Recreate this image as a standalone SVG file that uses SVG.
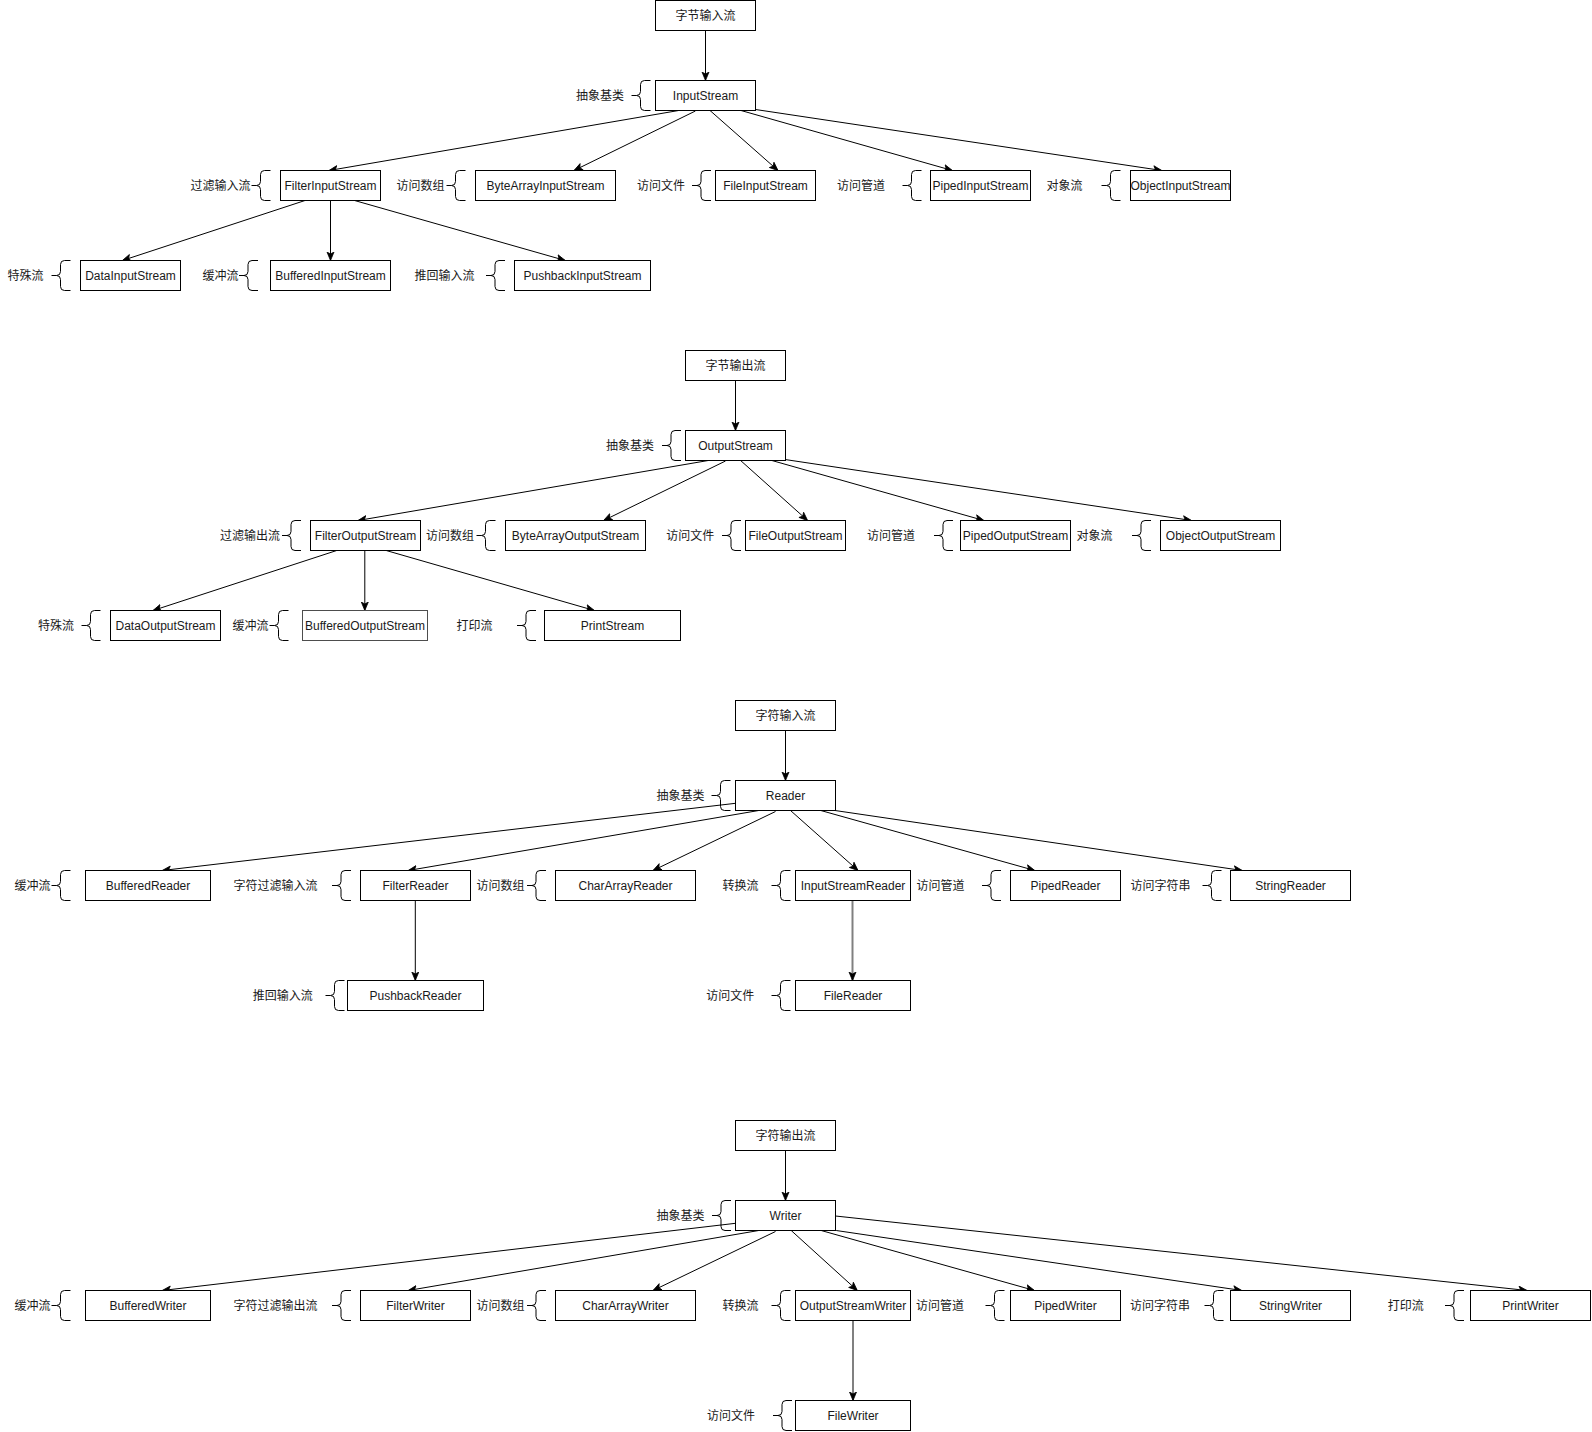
<svg xmlns="http://www.w3.org/2000/svg" xmlns:xlink="http://www.w3.org/1999/xlink" width="1592" height="1432" viewBox="0 0 1592 1432">
<style>
  .box { fill: #ffffff; stroke: #000000; stroke-width: 1; }
  .box.gray { stroke: #4d4d4d; }
  .t { font-family: "Liberation Sans", "Noto Sans CJK SC", sans-serif; font-size: 12px; fill: #1a1a1a; text-anchor: middle; dominant-baseline: central; }
  .brace { fill: none; stroke: #000000; stroke-width: 1; }
  .edge { fill: none; stroke: #000000; stroke-width: 1; marker-end: url(#arrow); }
  .edge.gray { stroke: #808080; stroke-width: 2; }
</style>
<defs>
  <marker id="arrow" markerUnits="userSpaceOnUse" markerWidth="12" markerHeight="12" refX="9" refY="4" orient="auto">
    <path d="M0.5,0.5 L9,4 L0.5,7.5 L2.5,4 Z" fill="#000000" stroke="#000000" stroke-width="0.8" stroke-linejoin="miter"/>
  </marker>
  <path id="brace" class="brace" d="M0,0 H-6 Q-10,0 -10,4 V11 Q-10,15 -14,15 H-19 M-14,15 Q-10,15 -10,19 V26 Q-10,30 -6,30 H0"/>
</defs>
<rect width="1592" height="1432" fill="#ffffff"/>

<g id="connectors">
  <!-- section 1 -->
  <line class="edge" x1="705.5" y1="30.5" x2="705.5" y2="80.5"/>
  <line class="edge" x1="678.6" y1="110.5" x2="329" y2="170.5"/>
  <line class="edge" x1="695.4" y1="111" x2="574" y2="170.5"/>
  <line class="edge" x1="710" y1="110.5" x2="778" y2="170.5"/>
  <line class="edge" x1="741" y1="110.5" x2="952.4" y2="170.5"/>
  <line class="edge" x1="755.5" y1="109.5" x2="1161.8" y2="170.5"/>
  <line class="edge" x1="305" y1="200.5" x2="122.4" y2="260.5"/>
  <line class="edge" x1="330.5" y1="200.5" x2="330.5" y2="260.5"/>
  <line class="edge" x1="354.6" y1="200.5" x2="565.3" y2="260.5"/>
  <!-- section 2 -->
  <line class="edge" x1="735.5" y1="380.5" x2="735.5" y2="430.5"/>
  <line class="edge" x1="708.2" y1="460.5" x2="358" y2="520.5"/>
  <line class="edge" x1="725.5" y1="461" x2="603.6" y2="520.5"/>
  <line class="edge" x1="740.6" y1="460.5" x2="807.6" y2="520.5"/>
  <line class="edge" x1="771.9" y1="460.5" x2="983.9" y2="520.5"/>
  <line class="edge" x1="785" y1="459.5" x2="1191.5" y2="520.5"/>
  <line class="edge" x1="336.7" y1="550.5" x2="153" y2="610.5"/>
  <line class="edge" x1="364.8" y1="550.5" x2="364.8" y2="610.5"/>
  <line class="edge" x1="386.2" y1="550.5" x2="594.4" y2="610.5"/>
  <!-- section 3 -->
  <line class="edge" x1="785.5" y1="730.5" x2="785.5" y2="780.5"/>
  <line class="edge" x1="735.5" y1="803.3" x2="162.2" y2="870.5"/>
  <line class="edge" x1="758.7" y1="810.5" x2="408.2" y2="870.5"/>
  <line class="edge" x1="775.5" y1="811.5" x2="653" y2="870.5"/>
  <line class="edge" x1="790.5" y1="810.5" x2="858" y2="870.5"/>
  <line class="edge" x1="820.8" y1="810.5" x2="1034.8" y2="870.5"/>
  <line class="edge" x1="835" y1="810.5" x2="1242.3" y2="870.5"/>
  <line class="edge" x1="415.3" y1="900.5" x2="415.3" y2="980.5"/>
  <line class="edge gray" x1="852.5" y1="900.5" x2="852.5" y2="980.5"/>
  <!-- section 4 -->
  <line class="edge" x1="785.5" y1="1150.5" x2="785.5" y2="1200.5"/>
  <line class="edge" x1="735.5" y1="1223.3" x2="162.2" y2="1290.5"/>
  <line class="edge" x1="758.7" y1="1230.5" x2="408.2" y2="1290.5"/>
  <line class="edge" x1="775.5" y1="1231.5" x2="653" y2="1290.5"/>
  <line class="edge" x1="791.2" y1="1230.5" x2="857.3" y2="1290.5"/>
  <line class="edge" x1="821.2" y1="1230.5" x2="1034.5" y2="1290.5"/>
  <line class="edge" x1="836.2" y1="1230.5" x2="1241.8" y2="1290.5"/>
  <line class="edge" x1="835.5" y1="1216" x2="1527.1" y2="1290.5"/>
  <line class="edge gray" x1="853" y1="1320.5" x2="853" y2="1400.5"/>
</g>

<!-- Section 1: byte input -->
<g id="byte-input-root"><rect class="box" x="655.5" y="0.5" width="100" height="30"/><text class="t" x="705.5" y="15.5">字节输入流</text></g>
<g id="InputStream"><text class="t" x="600" y="95.5">抽象基类</text><use xlink:href="#brace" x="650.5" y="80.5"/><rect class="box" x="655.5" y="80.5" width="100" height="30"/><text class="t" x="705.5" y="95.5">InputStream</text></g>
<g id="FilterInputStream"><text class="t" x="220.4" y="185.5">过滤输入流</text><use xlink:href="#brace" x="270.5" y="170.5"/><rect class="box" x="280.5" y="170.5" width="100" height="30"/><text class="t" x="330.5" y="185.5">FilterInputStream</text></g>
<g id="ByteArrayInputStream"><text class="t" x="420.5" y="185.5">访问数组</text><use xlink:href="#brace" x="465.5" y="170.5"/><rect class="box" x="475.5" y="170.5" width="140" height="30"/><text class="t" x="545.5" y="185.5">ByteArrayInputStream</text></g>
<g id="FileInputStream"><text class="t" x="661" y="185.5">访问文件</text><use xlink:href="#brace" x="711" y="170.5"/><rect class="box" x="715.5" y="170.5" width="100" height="30"/><text class="t" x="765.5" y="185.5">FileInputStream</text></g>
<g id="PipedInputStream"><text class="t" x="861" y="185.5">访问管道</text><use xlink:href="#brace" x="921.5" y="170.5"/><rect class="box" x="930.5" y="170.5" width="100" height="30"/><text class="t" x="980.5" y="185.5">PipedInputStream</text></g>
<g id="ObjectInputStream"><text class="t" x="1064.4" y="185.5">对象流</text><use xlink:href="#brace" x="1120.5" y="170.5"/><rect class="box" x="1130.5" y="170.5" width="100" height="30"/><text class="t" x="1180.5" y="185.5">ObjectInputStream</text></g>
<g id="DataInputStream"><text class="t" x="25.5" y="275.5">特殊流</text><use xlink:href="#brace" x="70.5" y="260.5"/><rect class="box" x="80.5" y="260.5" width="100" height="30"/><text class="t" x="130.5" y="275.5">DataInputStream</text></g>
<g id="BufferedInputStream"><text class="t" x="220.4" y="275.5">缓冲流</text><use xlink:href="#brace" x="258" y="260.5"/><rect class="box" x="270.5" y="260.5" width="120" height="30"/><text class="t" x="330.5" y="275.5">BufferedInputStream</text></g>
<g id="PushbackInputStream"><text class="t" x="444.4" y="275.5">推回输入流</text><use xlink:href="#brace" x="505" y="260.5"/><rect class="box" x="514.5" y="260.5" width="136" height="30"/><text class="t" x="582.5" y="275.5">PushbackInputStream</text></g>

<!-- Section 2: byte output -->
<g id="byte-output-root"><rect class="box" x="685.5" y="350.5" width="100" height="30"/><text class="t" x="735.5" y="365.5">字节输出流</text></g>
<g id="OutputStream"><text class="t" x="630" y="445.5">抽象基类</text><use xlink:href="#brace" x="681" y="430.5"/><rect class="box" x="685.5" y="430.5" width="100" height="30"/><text class="t" x="735.5" y="445.5">OutputStream</text></g>
<g id="FilterOutputStream"><text class="t" x="250" y="535.5">过滤输出流</text><use xlink:href="#brace" x="301" y="520.5"/><rect class="box" x="310.5" y="520.5" width="110" height="30"/><text class="t" x="365.5" y="535.5">FilterOutputStream</text></g>
<g id="ByteArrayOutputStream"><text class="t" x="450" y="535.5">访问数组</text><use xlink:href="#brace" x="495.5" y="520.5"/><rect class="box" x="505.5" y="520.5" width="140" height="30"/><text class="t" x="575.5" y="535.5">ByteArrayOutputStream</text></g>
<g id="FileOutputStream"><text class="t" x="690.3" y="535.5">访问文件</text><use xlink:href="#brace" x="741" y="520.5"/><rect class="box" x="745.5" y="520.5" width="100" height="30"/><text class="t" x="795.5" y="535.5">FileOutputStream</text></g>
<g id="PipedOutputStream"><text class="t" x="891" y="535.5">访问管道</text><use xlink:href="#brace" x="953" y="520.5"/><rect class="box" x="960.5" y="520.5" width="110" height="30"/><text class="t" x="1015.5" y="535.5">PipedOutputStream</text></g>
<g id="ObjectOutputStream"><text class="t" x="1094.6" y="535.5">对象流</text><use xlink:href="#brace" x="1151" y="520.5"/><rect class="box" x="1160.5" y="520.5" width="120" height="30"/><text class="t" x="1220.5" y="535.5">ObjectOutputStream</text></g>
<g id="DataOutputStream"><text class="t" x="56" y="625.5">特殊流</text><use xlink:href="#brace" x="100.5" y="610.5"/><rect class="box" x="110.5" y="610.5" width="110" height="30"/><text class="t" x="165.5" y="625.5">DataOutputStream</text></g>
<g id="BufferedOutputStream"><text class="t" x="250.5" y="625.5">缓冲流</text><use xlink:href="#brace" x="288.5" y="610.5"/><rect class="box gray" x="302.5" y="610.5" width="125" height="30"/><text class="t" x="365" y="625.5">BufferedOutputStream</text></g>
<g id="PrintStream"><text class="t" x="474.5" y="625.5">打印流</text><use xlink:href="#brace" x="536" y="610.5"/><rect class="box" x="544.5" y="610.5" width="136" height="30"/><text class="t" x="612.5" y="625.5">PrintStream</text></g>

<!-- Section 3: char input -->
<g id="char-input-root"><rect class="box" x="735.5" y="700.5" width="100" height="30"/><text class="t" x="785.5" y="715.5">字符输入流</text></g>
<g id="Reader"><text class="t" x="680.5" y="795.5">抽象基类</text><use xlink:href="#brace" x="730.5" y="780.5"/><rect class="box" x="735.5" y="780.5" width="100" height="30"/><text class="t" x="785.5" y="795.5">Reader</text></g>
<g id="BufferedReader"><text class="t" x="32.6" y="885.5">缓冲流</text><use xlink:href="#brace" x="70.5" y="870.5"/><rect class="box" x="85.5" y="870.5" width="125" height="30"/><text class="t" x="148" y="885.5">BufferedReader</text></g>
<g id="FilterReader"><text class="t" x="275.5" y="885.5">字符过滤输入流</text><use xlink:href="#brace" x="351" y="870.5"/><rect class="box" x="360.5" y="870.5" width="110" height="30"/><text class="t" x="415.5" y="885.5">FilterReader</text></g>
<g id="CharArrayReader"><text class="t" x="500.5" y="885.5">访问数组</text><use xlink:href="#brace" x="546" y="870.5"/><rect class="box" x="555.5" y="870.5" width="140" height="30"/><text class="t" x="625.5" y="885.5">CharArrayReader</text></g>
<g id="InputStreamReader"><text class="t" x="740.4" y="885.5">转换流</text><use xlink:href="#brace" x="790.5" y="870.5"/><rect class="box" x="795.5" y="870.5" width="115" height="30"/><text class="t" x="853" y="885.5">InputStreamReader</text></g>
<g id="PipedReader"><text class="t" x="940.6" y="885.5">访问管道</text><use xlink:href="#brace" x="1001" y="870.5"/><rect class="box" x="1010.5" y="870.5" width="110" height="30"/><text class="t" x="1065.5" y="885.5">PipedReader</text></g>
<g id="StringReader"><text class="t" x="1160.5" y="885.5">访问字符串</text><use xlink:href="#brace" x="1221.5" y="870.5"/><rect class="box" x="1230.5" y="870.5" width="120" height="30"/><text class="t" x="1290.5" y="885.5">StringReader</text></g>
<g id="PushbackReader"><text class="t" x="282.7" y="995.5">推回输入流</text><use xlink:href="#brace" x="344.5" y="980.5"/><rect class="box" x="347.5" y="980.5" width="136" height="30"/><text class="t" x="415.5" y="995.5">PushbackReader</text></g>
<g id="FileReader"><text class="t" x="730.3" y="995.5">访问文件</text><use xlink:href="#brace" x="790.5" y="980.5"/><rect class="box" x="795.5" y="980.5" width="115" height="30"/><text class="t" x="853" y="995.5">FileReader</text></g>

<!-- Section 4: char output -->
<g id="char-output-root"><rect class="box" x="735.5" y="1120.5" width="100" height="30"/><text class="t" x="785.5" y="1135.5">字符输出流</text></g>
<g id="Writer"><text class="t" x="680.6" y="1215.5">抽象基类</text><use xlink:href="#brace" x="731" y="1200.5"/><rect class="box" x="735.5" y="1200.5" width="100" height="30"/><text class="t" x="785.5" y="1215.5">Writer</text></g>
<g id="BufferedWriter"><text class="t" x="32.6" y="1305.5">缓冲流</text><use xlink:href="#brace" x="70.5" y="1290.5"/><rect class="box" x="85.5" y="1290.5" width="125" height="30"/><text class="t" x="148" y="1305.5">BufferedWriter</text></g>
<g id="FilterWriter"><text class="t" x="275.5" y="1305.5">字符过滤输出流</text><use xlink:href="#brace" x="351" y="1290.5"/><rect class="box" x="360.5" y="1290.5" width="110" height="30"/><text class="t" x="415.5" y="1305.5">FilterWriter</text></g>
<g id="CharArrayWriter"><text class="t" x="500.5" y="1305.5">访问数组</text><use xlink:href="#brace" x="546" y="1290.5"/><rect class="box" x="555.5" y="1290.5" width="140" height="30"/><text class="t" x="625.5" y="1305.5">CharArrayWriter</text></g>
<g id="OutputStreamWriter"><text class="t" x="740.4" y="1305.5">转换流</text><use xlink:href="#brace" x="790.5" y="1290.5"/><rect class="box" x="795.5" y="1290.5" width="115" height="30"/><text class="t" x="853" y="1305.5">OutputStreamWriter</text></g>
<g id="PipedWriter"><text class="t" x="940" y="1305.5">访问管道</text><use xlink:href="#brace" x="1004.5" y="1290.5"/><rect class="box" x="1010.5" y="1290.5" width="110" height="30"/><text class="t" x="1065.5" y="1305.5">PipedWriter</text></g>
<g id="StringWriter"><text class="t" x="1160" y="1305.5">访问字符串</text><use xlink:href="#brace" x="1223.5" y="1290.5"/><rect class="box" x="1230.5" y="1290.5" width="120" height="30"/><text class="t" x="1290.5" y="1305.5">StringWriter</text></g>
<g id="PrintWriter"><text class="t" x="1405.8" y="1305.5">打印流</text><use xlink:href="#brace" x="1464" y="1290.5"/><rect class="box" x="1470.5" y="1290.5" width="120" height="30"/><text class="t" x="1530.5" y="1305.5">PrintWriter</text></g>
<g id="FileWriter"><text class="t" x="731" y="1415.5">访问文件</text><use xlink:href="#brace" x="792" y="1400.5"/><rect class="box" x="795.5" y="1400.5" width="115" height="30"/><text class="t" x="853" y="1415.5">FileWriter</text></g>
</svg>
